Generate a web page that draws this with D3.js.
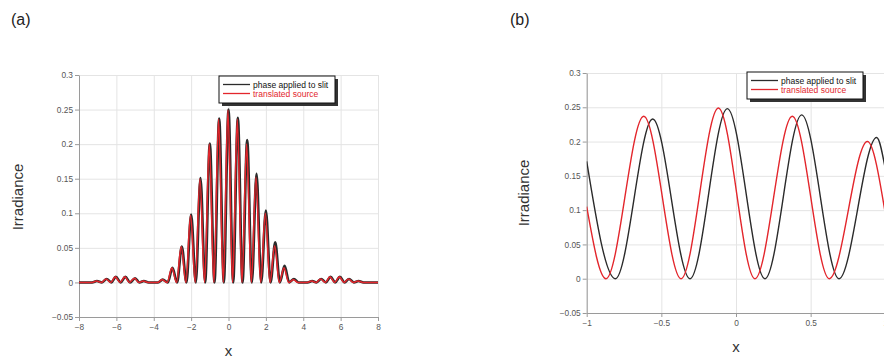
<!DOCTYPE html>
<html>
<head>
<meta charset="utf-8">
<script src="https://cdn.jsdelivr.net/npm/d3@7"></script>
<style>
  body { margin: 0; background: #fff; }
  svg { display: block; font-family: "Liberation Sans", Arial, sans-serif; }
  .tick text { fill: #555; font-size: 8.3px; }
  .axis path, .axis line { stroke: #9a9a9a; }
  .grid line { stroke: #e4e4e4; }
  .grid path { display: none; }
</style>
</head>
<body>
<div id="chart"></div>
<script>
// Panel (a): full pattern, [x, irradiance]
const blackA = [
  [-8, 0], [-7.3, 0], [-7.04, 0.002], [-6.77, 0], [-6.52, 0.005], [-6.27, 0], [-6.03, 0.008],
  [-5.77, 0], [-5.52, 0.008], [-5.27, 0], [-5.0, 0.006], [-4.77, 0], [-4.53, 0.002], [-4.27, 0],
  [-3.77, 0], [-3.52, 0.004], [-3.25, 0], [-3.0, 0.021], [-2.75, 0], [-2.5, 0.052], [-2.25, 0],
  [-2.0, 0.098], [-1.75, 0], [-1.5, 0.151], [-1.25, 0], [-1.0, 0.201], [-0.75, 0],
  [-0.5, 0.237], [-0.25, 0], [0.0, 0.25], [0.25, 0], [0.5, 0.238], [0.75, 0], [1.0, 0.206],
  [1.25, 0], [1.5, 0.157], [1.75, 0], [2.0, 0.104], [2.25, 0], [2.5, 0.058], [2.75, 0],
  [3.0, 0.024], [3.25, 0], [3.5, 0.005], [3.75, 0], [4.23, 0], [4.48, 0.002], [4.71, 0],
  [4.96, 0.005], [5.21, 0], [5.46, 0.008], [5.71, 0], [5.96, 0.008], [6.21, 0], [6.45, 0.005],
  [6.71, 0], [6.96, 0.002], [7.23, 0], [8, 0]
];
const redA = [
  [-8, 0], [-7.3, 0], [-7.07, 0.002], [-6.8, 0], [-6.55, 0.005], [-6.3, 0], [-6.06, 0.008],
  [-5.8, 0], [-5.55, 0.008], [-5.3, 0], [-5.03, 0.006], [-4.8, 0], [-4.56, 0.002], [-4.3, 0],
  [-3.8, 0], [-3.55, 0.004], [-3.28, 0], [-3.03, 0.021], [-2.78, 0], [-2.53, 0.052], [-2.28, 0],
  [-2.03, 0.097], [-1.78, 0], [-1.53, 0.15], [-1.28, 0], [-1.03, 0.2], [-0.78, 0],
  [-0.53, 0.236], [-0.28, 0], [-0.03, 0.249], [0.22, 0], [0.47, 0.236], [0.72, 0], [0.97, 0.2],
  [1.22, 0], [1.47, 0.152], [1.72, 0], [1.97, 0.1], [2.22, 0], [2.47, 0.053], [2.72, 0],
  [2.97, 0.021], [3.22, 0], [3.47, 0.004], [3.72, 0], [4.2, 0], [4.45, 0.002], [4.68, 0],
  [4.93, 0.005], [5.18, 0], [5.43, 0.008], [5.68, 0], [5.93, 0.008], [6.18, 0], [6.42, 0.005],
  [6.68, 0], [6.93, 0.002], [7.2, 0], [8, 0]
];

// Panel (b): close-up around the centre
const blackB = [
  [-1, 0.171], [-0.808, 0], [-0.558, 0.233], [-0.308, 0], [-0.058, 0.248],
  [0.194, 0], [0.44, 0.239], [0.69, 0], [0.942, 0.206], [1, 0.16]
];
const redB = [
  [-1, 0.105], [-0.871, 0], [-0.618, 0.237], [-0.368, 0], [-0.118, 0.249],
  [0.127, 0], [0.377, 0.237], [0.625, 0], [0.88, 0.2], [1, 0.095]
];

const yTicks = [-0.05, 0, 0.05, 0.1, 0.15, 0.2, 0.25, 0.3];
const xTicksA = [-8, -6, -4, -2, 0, 2, 4, 6, 8];
const xTicksB = [-1, -0.5, 0, 0.5, 1];
const seriesNames = ["phase applied to slit", "translated source"];
const colors = ["#2b2b2b", "#e3262c"];

const svg = d3.select("#chart").append("svg")
  .attr("width", 884).attr("height", 358);

function panel(cfg) {
  const x = d3.scaleLinear().domain(cfg.xDomain).range(cfg.xRange);
  const y = d3.scaleLinear().domain([-0.05, 0.3]).range(cfg.yRange);
  const g = svg.append("g");

  const clipId = "clip-" + cfg.id;
  g.append("clipPath").attr("id", clipId).append("rect")
    .attr("x", cfg.xRange[0]).attr("y", cfg.yRange[1] - 2)
    .attr("width", cfg.xRange[1] - cfg.xRange[0])
    .attr("height", cfg.yRange[0] - cfg.yRange[1] + 2);

  // grid
  g.append("g").attr("class", "grid")
    .attr("transform", `translate(0,${cfg.yRange[0]})`)
    .call(d3.axisBottom(x).tickValues(cfg.xTicks).tickSize(-(cfg.yRange[0] - cfg.yRange[1])).tickFormat(""));
  g.append("g").attr("class", "grid")
    .attr("transform", `translate(${cfg.xRange[0]},0)`)
    .call(d3.axisLeft(y).tickValues(yTicks).tickSize(-(cfg.xRange[1] - cfg.xRange[0])).tickFormat(""));

  // axes
  g.append("g").attr("class", "axis")
    .attr("transform", `translate(0,${cfg.yRange[0]})`)
    .call(d3.axisBottom(x).tickValues(cfg.xTicks).tickSize(4).tickSizeOuter(0).tickPadding(3).tickFormat(d3.format("")));
  g.append("g").attr("class", "axis")
    .attr("transform", `translate(${cfg.xRange[0]},0)`)
    .call(d3.axisLeft(y).tickValues(yTicks).tickSize(4).tickSizeOuter(0).tickPadding(2).tickFormat(d3.format("")));

  const line = d3.line()
    .x(d => x(d[0]))
    .y(d => y(d[1]))
    .curve(d3.curveMonotoneX);

  const lines = g.append("g").attr("clip-path", `url(#${clipId})`);
  cfg.series.forEach((s, i) => {
    lines.append("path")
      .datum(s)
      .attr("d", line)
      .attr("fill", "none")
      .attr("stroke", colors[i])
      .attr("stroke-width", cfg.lineWidth[i])
      .attr("stroke-linejoin", "round");
  });

  // legend
  const lg = g.append("g").attr("transform", `translate(${cfg.legend[0]},${cfg.legend[1]})`);
  lg.append("rect").attr("x", 3).attr("y", 3).attr("width", 116).attr("height", 27).attr("fill", "#333");
  lg.append("rect").attr("x", 0).attr("y", 0).attr("width", 116).attr("height", 27)
    .attr("fill", "#fff").attr("stroke", "#111").attr("stroke-width", 1);
  seriesNames.forEach((name, i) => {
    const yy = 8.5 + i * 9;
    lg.append("line").attr("x1", 4).attr("x2", 31).attr("y1", yy).attr("y2", yy)
      .attr("stroke", colors[i]).attr("stroke-width", 1.3);
    lg.append("text").attr("x", 34).attr("y", yy + 3)
      .attr("font-size", "8.5px").attr("fill", i === 0 ? "#111" : colors[1])
      .text(name);
  });

  // labels
  svg.append("text").attr("x", cfg.panelLabel[0]).attr("y", cfg.panelLabel[1])
    .attr("font-size", "16px").attr("fill", "#222").text(cfg.label);
  svg.append("text")
    .attr("transform", `translate(${cfg.yLabel[0]},${cfg.yLabel[1]}) rotate(-90)`)
    .attr("text-anchor", "middle").attr("font-size", "15px").attr("fill", "#333")
    .text("Irradiance");
  svg.append("text").attr("x", x(cfg.xLabelAt)).attr("y", cfg.xLabelY)
    .attr("text-anchor", "middle").attr("font-size", "15px").attr("fill", "#333")
    .text("x");
}

panel({
  id: "a", label: "(a)",
  xDomain: [-8, 8], xRange: [79, 378], yRange: [317, 75],
  xTicks: xTicksA, series: [blackA, redA], lineWidth: [2.6, 1.6],
  legend: [219, 76], panelLabel: [11, 25], yLabel: [23, 197],
  xLabelAt: 0, xLabelY: 356
});

panel({
  id: "b", label: "(b)",
  xDomain: [-1, 1], xRange: [586.7, 885.3], yRange: [313, 73],
  xTicks: xTicksB, series: [blackB, redB], lineWidth: [1.4, 1.4],
  legend: [747, 72], panelLabel: [510, 25], yLabel: [529, 193],
  xLabelAt: 0, xLabelY: 352
});
</script>
</body>
</html>
